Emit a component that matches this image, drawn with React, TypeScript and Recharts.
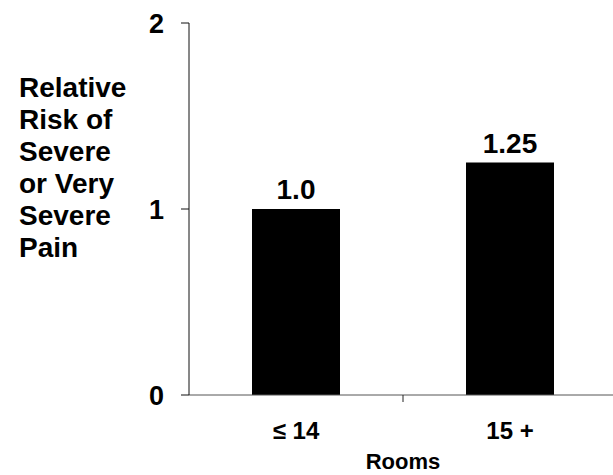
import { BarChart, Bar, XAxis, YAxis, LabelList } from "recharts";

const categories = ["≤ 14", "15 +"];
const relativeRisk = [1.0, 1.25];
const riskLabels = ["1.0", "1.25"];
const yTicks = [0, 1, 2];
const yLabelLines = ["Relative", "Risk of", "Severe", "or Very", "Severe", "Pain"];
const xTitle = "Rooms";

const data = categories.map((room, i) => ({
  room,
  risk: relativeRisk[i],
  label: riskLabels[i],
}));

const FONT = "'Liberation Sans', Arial, sans-serif";
const X_TICK_GAP = 27;

// category label plus a small divider tick at the right edge of each band
function RoomTick(props: any) {
  const { x, y, payload, index, width, visibleTicksCount } = props;
  const band = width / (visibleTicksCount || categories.length);
  const edge = x + band / 2;
  const axisY = y - X_TICK_GAP;
  return (
    <g>
      {index < categories.length - 1 && (
        <line x1={edge} x2={edge} y1={axisY} y2={axisY + 7} stroke="#222" />
      )}
      <text
        x={x}
        y={y}
        dy="0.71em"
        textAnchor="middle"
        fontSize={24}
        fontWeight={700}
        fontFamily={FONT}
        fill="#000"
      >
        {payload.value}
      </text>
    </g>
  );
}

export default function App() {
  return (
    <div
      style={{
        position: "absolute",
        left: 0,
        top: 0,
        width: 613,
        height: 475,
        overflow: "hidden",
        background: "#fff",
        fontFamily: FONT,
      }}
    >
      <BarChart
        width={630}
        height={475}
        data={data}
        margin={{ top: 23, right: 13, bottom: 0, left: 139 }}
      >
        <XAxis
          dataKey="room"
          height={80}
          tickLine={false}
          tickSize={0}
          axisLine={{ stroke: "#555" }}
          tickMargin={X_TICK_GAP}
          tick={<RoomTick />}
          label={{
            content: ({ viewBox }: any) => (
              <text
                x={viewBox.x + viewBox.width / 2}
                y={viewBox.y + 74}
                textAnchor="middle"
                fontSize={22}
                fontWeight={700}
                fontFamily={FONT}
                fill="#000"
              >
                {xTitle}
              </text>
            ),
          }}
        />
        <YAxis
          width={50}
          domain={[0, 2]}
          ticks={yTicks}
          interval={0}
          tickSize={8}
          tickMargin={17}
          axisLine={{ stroke: "#111" }}
          tickLine={{ stroke: "#111" }}
          tick={{ fontSize: 27, fontWeight: 700, fill: "#000", fontFamily: FONT }}
          label={{
            content: () => (
              <text fontSize={28} fontWeight={700} fontFamily={FONT} fill="#000">
                {yLabelLines.map((line, i) => (
                  <tspan key={i} x={19} y={97 + i * 32}>
                    {line}
                  </tspan>
                ))}
              </text>
            ),
          }}
        />
        <Bar dataKey="risk" fill="#000" barSize={88} isAnimationActive={false}>
          <LabelList
            dataKey="label"
            position="top"
            offset={10}
            style={{ fontSize: 28, fontWeight: 700, fill: "#000", fontFamily: FONT }}
          />
        </Bar>
      </BarChart>
    </div>
  );
}
